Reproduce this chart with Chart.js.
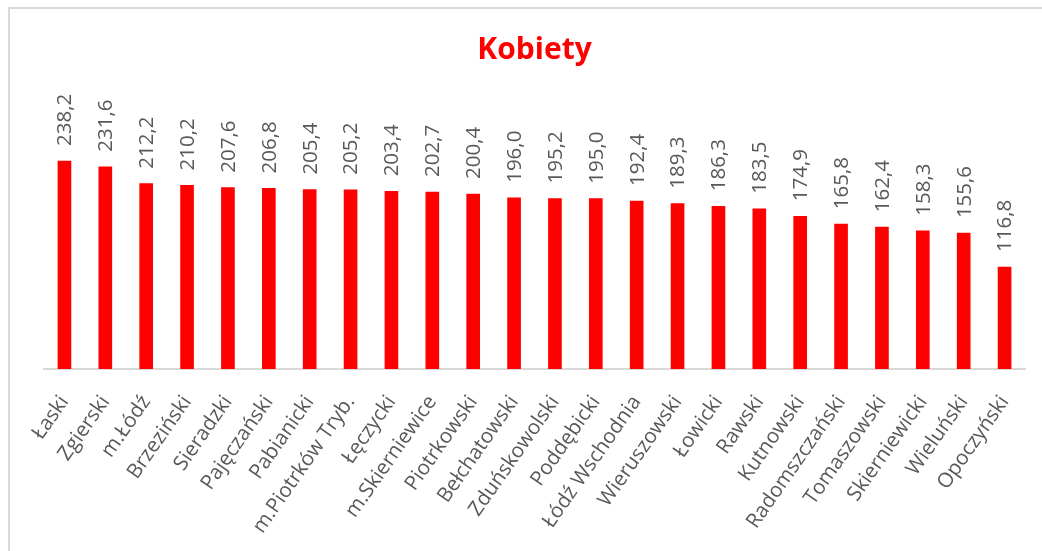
<!DOCTYPE html>
<html>
<head>
<meta charset="utf-8">
<script src="https://cdn.jsdelivr.net/npm/chart.js@4.4.0/dist/chart.umd.min.js"></script>
<style>
html,body{margin:0;padding:0;background:#fff;}
#wrap{position:relative;width:1042px;height:551px;}
</style>
</head>
<body>
<div id="wrap"><canvas id="c" width="1042" height="551"></canvas></div>
<script>
const categories = ["Łaski","Zgierski","m.Łódź","Brzeziński","Sieradzki","Pajęczański","Pabianicki","m.Piotrków Tryb.","Łęczycki","m.Skierniewice","Piotrkowski","Bełchatowski","Zduńskowolski","Poddębicki","Łódź Wschodnia","Wieruszowski","Łowicki","Rawski","Kutnowski","Radomszczański","Tomaszowski","Skierniewicki","Wieluński","Opoczyński"];
const values = [238.2,231.6,212.2,210.2,207.6,206.8,205.4,205.2,203.4,202.7,200.4,196.0,195.2,195.0,192.4,189.3,186.3,183.5,174.9,165.8,162.4,158.3,155.6,116.8];
const title = "Kobiety";

const frame = {
  id: 'frame',
  beforeDraw(chart) {
    const ctx = chart.ctx;
    ctx.save();
    ctx.fillStyle = '#fff';
    ctx.fillRect(0, 0, chart.width, chart.height);
    ctx.fillStyle = '#d9d9d9';
    ctx.fillRect(8, 7, chart.width - 8, 2);
    ctx.fillRect(8, 7, 2, chart.height - 7);
    ctx.restore();
  }
};

const valueLabels = {
  id: 'valueLabels',
  afterDatasetsDraw(chart) {
    const ctx = chart.ctx;
    const meta = chart.getDatasetMeta(0);
    ctx.save();
    ctx.font = '20.5px "Open Sans"';
    ctx.fillStyle = '#595959';
    ctx.textAlign = 'left';
    ctx.textBaseline = 'middle';
    meta.data.forEach((bar, i) => {
      ctx.save();
      ctx.translate(bar.x + 1, bar.y - 15);
      ctx.rotate(-Math.PI / 2);
      ctx.fillText(values[i].toFixed(1).replace('.', ','), 0, 0);
      ctx.restore();
    });
    ctx.restore();
  }
};

new Chart(document.getElementById('c'), {
  type: 'bar',
  data: {
    labels: categories,
    datasets: [{
      data: values,
      backgroundColor: '#ff0000',
      borderWidth: 0,
      barThickness: 13
    }]
  },
  options: {
    responsive: false,
    animation: false,
    events: [],
    layout: { padding: { top: 20, left: 44, right: 17, bottom: 0 } },
    plugins: {
      legend: { display: false },
      tooltip: { enabled: false },
      title: {
        display: true,
        text: title,
        color: '#ff0000',
        font: { family: '"Open Sans"', size: 30, weight: 'bold' },
        padding: { top: 12, bottom: 39 }
      }
    },
    scales: {
      y: {
        display: false,
        min: 0,
        max: 300
      },
      x: {
        grid: { display: false, drawTicks: false },
        border: { display: true, color: '#d9d9d9', width: 2 },
        ticks: {
          color: '#595959',
          font: { family: '"Open Sans"', size: 20.5 },
          minRotation: 55,
          maxRotation: 55,
          autoSkip: false,
          padding: 22
        },
        afterFit(scale) {
          scale.height = 182;
          scale.paddingLeft = 0;
          scale.paddingRight = 0;
        }
      }
    }
  },
  plugins: [frame, valueLabels]
});
</script>
</body>
</html>
